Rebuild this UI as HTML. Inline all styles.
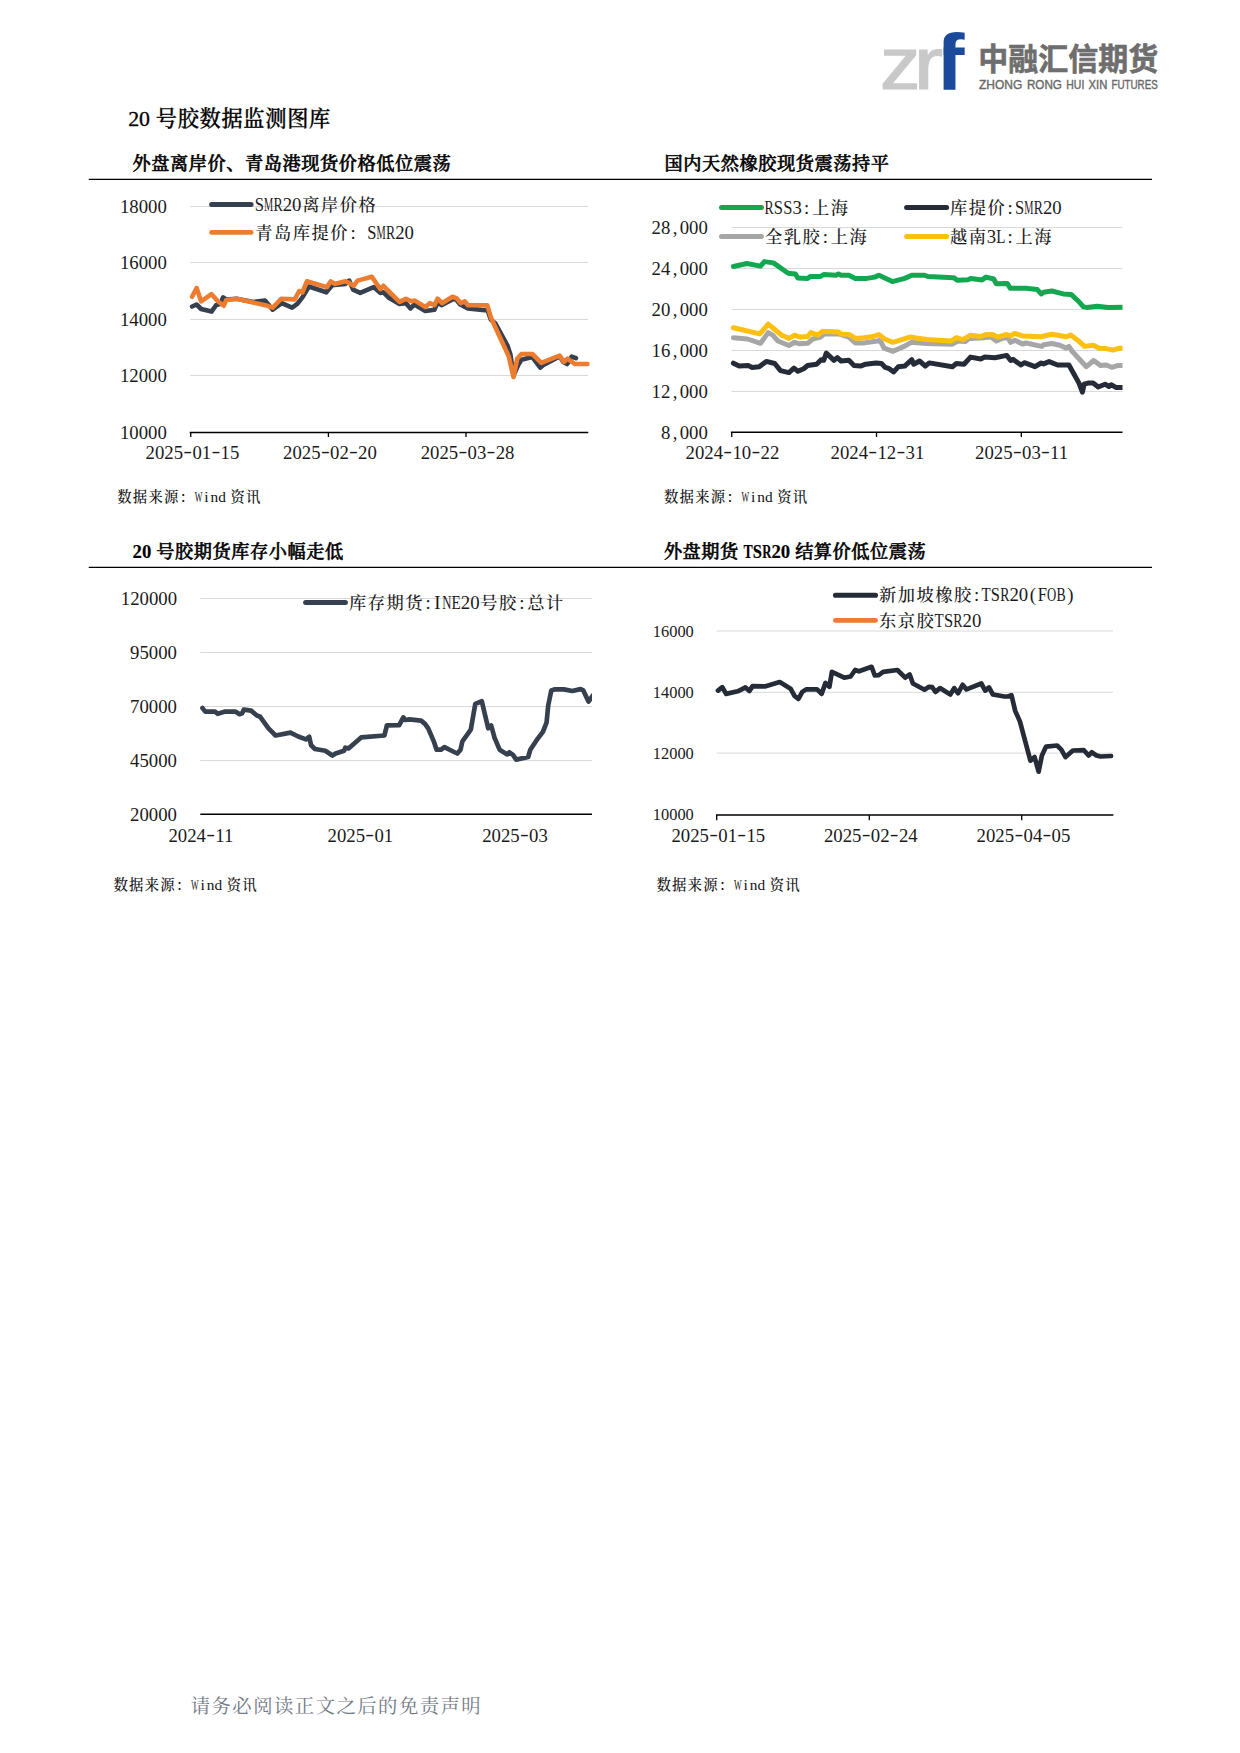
<!DOCTYPE html>
<html lang="zh-CN"><head><meta charset="utf-8"><title>20号胶数据监测图库</title>
<style>
html,body{margin:0;padding:0;background:#fff;}
body{width:1240px;height:1753px;overflow:hidden;}
svg{display:block;font-family:'Liberation Serif','Noto Serif CJK SC',serif;}
text{white-space:pre;}
</style></head><body>
<svg width="1240" height="1753" viewBox="0 0 1240 1753">
<clipPath id="cpf"><rect x="943.4" y="20" width="40" height="80"/></clipPath>
<text x="880.0" y="89.2" font-family="'Liberation Sans',sans-serif" font-size="73.5" fill="#c9c9c9" stroke="#c9c9c9" stroke-width="1.2" textLength="40.4" lengthAdjust="spacingAndGlyphs">z</text>
<text x="913.7" y="89.2" font-family="'Liberation Sans',sans-serif" font-size="73.5" fill="#c9c9c9" stroke="#c9c9c9" stroke-width="1.2" textLength="29.2" lengthAdjust="spacingAndGlyphs">r</text>
<text x="935.0" y="89.7" font-family="'Liberation Sans',sans-serif" font-weight="700" font-size="77" fill="#1b4a9b" textLength="29.5" lengthAdjust="spacingAndGlyphs" clip-path="url(#cpf)" transform="translate(0 89.7) scale(1 1.035) translate(0 -89.7)">f</text>
<text x="978.3" y="70.3" font-family="'Liberation Sans','Noto Sans CJK SC',sans-serif" font-weight="700" font-size="30.3" fill="#6e6e6e" stroke="#6e6e6e" stroke-width="0.6" textLength="180" lengthAdjust="spacingAndGlyphs">中融汇信期货</text>
<text y="89.3" font-family="'Liberation Sans',sans-serif" font-size="12.6" fill="#696969" stroke="#696969" stroke-width="0.4"><tspan x="979.0" textLength="43.2" lengthAdjust="spacingAndGlyphs">ZHONG</tspan> <tspan x="1026.9" textLength="35.0" lengthAdjust="spacingAndGlyphs">RONG</tspan> <tspan x="1066.3" textLength="18.0" lengthAdjust="spacingAndGlyphs">HUI</tspan> <tspan x="1088.6" textLength="18.8" lengthAdjust="spacingAndGlyphs">XIN</tspan> <tspan x="1111.4" textLength="46.4" lengthAdjust="spacingAndGlyphs">FUTURES</tspan></text>
<text y="126.20" font-size="21.875" font-weight="500" fill="#000" stroke="#000" stroke-width="0.3"><tspan x="128.20">20</tspan> <tspan x="155.87" font-size="21.22" letter-spacing="0.66">号胶数据监测图库</tspan></text>
<text y="170.30" font-size="18.75" font-weight="500" fill="#000" stroke="#000" stroke-width="0.55"><tspan x="132.58" font-size="18.19" letter-spacing="0.56">外盘离岸价、青岛港现货价格低位震荡</tspan></text>
<text y="170.30" font-size="18.75" font-weight="500" fill="#000" stroke="#000" stroke-width="0.55"><tspan x="664.48" font-size="18.19" letter-spacing="0.56">国内天然橡胶现货震荡持平</tspan></text>
<text y="558.30" font-size="18.75" font-weight="500" fill="#000" stroke="#000" stroke-width="0.55"><tspan font-weight="700" stroke-width="0.15"><tspan x="132.50">20</tspan></tspan> <tspan x="156.22" font-size="18.19" letter-spacing="0.56">号胶期货库存小幅走低</tspan></text>
<text y="558.30" font-size="18.75" font-weight="500" fill="#000" stroke="#000" stroke-width="0.55"><tspan x="663.88" font-size="18.19" letter-spacing="0.56">外盘期货</tspan> <tspan font-weight="700" stroke-width="0.15"><tspan x="743.38" textLength="9.19" lengthAdjust="spacingAndGlyphs">T</tspan><tspan x="752.76" textLength="9.19" lengthAdjust="spacingAndGlyphs">S</tspan><tspan x="762.13" textLength="9.19" lengthAdjust="spacingAndGlyphs">R</tspan><tspan x="771.41">20</tspan></tspan> <tspan x="795.13" font-size="18.19" letter-spacing="0.56">结算价低位震荡</tspan></text>
<line x1="88.75" y1="179.4" x2="1152" y2="179.4" stroke="#000" stroke-width="1.1"/>
<line x1="88.75" y1="567.4" x2="1152" y2="567.4" stroke="#000" stroke-width="1.1"/>
<line x1="190.3" y1="206.5" x2="588.3" y2="206.5" stroke="#d9d9d9" stroke-width="1"/>
<line x1="190.3" y1="262.5" x2="588.3" y2="262.5" stroke="#d9d9d9" stroke-width="1"/>
<line x1="190.3" y1="319.5" x2="588.3" y2="319.5" stroke="#d9d9d9" stroke-width="1"/>
<line x1="190.3" y1="375.5" x2="588.3" y2="375.5" stroke="#d9d9d9" stroke-width="1"/>
<text y="213.08" font-size="18.75" font-weight="400" fill="#1a1a1a" ><tspan x="119.93">18000</tspan></text>
<text y="269.48" font-size="18.75" font-weight="400" fill="#1a1a1a" ><tspan x="119.93">16000</tspan></text>
<text y="326.08" font-size="18.75" font-weight="400" fill="#1a1a1a" ><tspan x="119.93">14000</tspan></text>
<text y="382.38" font-size="18.75" font-weight="400" fill="#1a1a1a" ><tspan x="119.93">12000</tspan></text>
<text y="439.18" font-size="18.75" font-weight="400" fill="#1a1a1a" ><tspan x="119.93">10000</tspan></text>
<polyline points="192.1,306.5 196.6,304.5 201.1,309.0 211.5,311.6 216.0,305.2 220.5,303.9 223.1,297.4 226.3,299.5 236.6,298.7 253.4,302.0 265.0,300.6 272.7,309.7 281.8,303.2 292.1,307.7 297.3,303.9 302.4,297.4 308.9,286.5 326.3,292.3 332.1,285.2 345.3,283.9 349.2,280.6 353.1,289.7 360.2,292.9 373.7,287.1 380.2,292.9 383.4,292.3 389.2,298.1 399.5,303.9 406.0,303.2 410.5,308.4 414.4,304.5 425.3,311.0 434.4,309.7 437.6,302.6 441.5,305.2 452.4,299.4 455.6,298.7 460.2,304.5 467.9,308.4 484.7,310.3 487.3,309.7 491.0,320.0 495.2,323.0 507.7,346.1 510.4,354.5 513.5,375.5 518.2,365.0 521.4,359.8 532.4,357.1 540.2,367.6 543.4,365.0 559.6,356.5 563.3,361.9 567.0,364.0 568.6,361.9 571.7,356.6 575.9,358.2" fill="none" stroke="#36404f" stroke-width="4.6" stroke-linejoin="round" stroke-linecap="round"/>
<polyline points="192.1,296.8 196.6,288.1 201.1,301.3 211.5,294.2 217.9,301.3 223.7,305.8 226.3,300.0 236.6,298.7 253.4,302.6 267.6,305.8 272.7,307.7 281.1,298.7 294.7,299.4 299.2,291.0 302.4,292.3 306.9,281.3 326.9,287.1 330.8,281.3 334.7,283.9 345.3,281.3 348.5,282.6 353.7,285.8 357.6,280.6 371.8,276.8 380.2,289.0 383.4,285.8 399.5,301.9 406.0,298.7 411.1,301.3 415.0,300.6 425.3,307.1 429.8,303.2 434.4,305.2 437.6,298.7 442.1,303.2 452.4,296.8 456.3,298.1 460.8,303.2 464.7,301.3 467.9,305.2 487.3,305.2 491.0,317.8 508.8,356.6 513.5,377.1 517.2,358.7 521.4,354.0 532.4,354.0 541.3,362.9 559.6,355.6 563.8,361.9 567.5,358.7 574.8,364.0 587.4,364.0" fill="none" stroke="#ec7c30" stroke-width="4.6" stroke-linejoin="round" stroke-linecap="round"/>
<line x1="189.70000000000002" y1="432.5" x2="588.3" y2="432.5" stroke="#000" stroke-width="1.4"/>
<line x1="190.75" y1="432.5" x2="190.75" y2="437" stroke="#000" stroke-width="1.3"/>
<line x1="328.4" y1="432.5" x2="328.4" y2="437" stroke="#000" stroke-width="1.3"/>
<line x1="466.0" y1="432.5" x2="466.0" y2="437" stroke="#000" stroke-width="1.3"/>
<text y="458.88" font-size="18.75" font-weight="400" fill="#1a1a1a" ><tspan x="145.53">2025</tspan><tspan x="183.31" dy="-2.25" textLength="8.81" lengthAdjust="spacingAndGlyphs">-</tspan><tspan x="192.40" dy="2.25">01</tspan><tspan x="211.43" dy="-2.25" textLength="8.81" lengthAdjust="spacingAndGlyphs">-</tspan><tspan x="220.53" dy="2.25">15</tspan></text>
<text y="458.88" font-size="18.75" font-weight="400" fill="#1a1a1a" ><tspan x="283.12">2025</tspan><tspan x="320.91" dy="-2.25" textLength="8.81" lengthAdjust="spacingAndGlyphs">-</tspan><tspan x="330.00" dy="2.25">02</tspan><tspan x="349.03" dy="-2.25" textLength="8.81" lengthAdjust="spacingAndGlyphs">-</tspan><tspan x="358.12" dy="2.25">20</tspan></text>
<text y="458.88" font-size="18.75" font-weight="400" fill="#1a1a1a" ><tspan x="420.73">2025</tspan><tspan x="458.51" dy="-2.25" textLength="8.81" lengthAdjust="spacingAndGlyphs">-</tspan><tspan x="467.60" dy="2.25">03</tspan><tspan x="486.63" dy="-2.25" textLength="8.81" lengthAdjust="spacingAndGlyphs">-</tspan><tspan x="495.73" dy="2.25">28</tspan></text>
<line x1="211.6" y1="204.4" x2="251.1" y2="204.4" stroke="#36404f" stroke-width="5" stroke-linecap="round"/>
<line x1="211.6" y1="232.4" x2="251.1" y2="232.4" stroke="#ec7c30" stroke-width="4.8" stroke-linecap="round"/>
<text y="210.89" font-size="18.75" font-weight="400" fill="#1a1a1a" ><tspan x="254.69" textLength="9.19" lengthAdjust="spacingAndGlyphs">S</tspan><tspan x="264.07" textLength="9.19" lengthAdjust="spacingAndGlyphs">M</tspan><tspan x="273.44" textLength="9.19" lengthAdjust="spacingAndGlyphs">R</tspan><tspan x="282.73">20</tspan><tspan x="302.23" font-size="17.25" letter-spacing="1.50" font-weight="500">离岸价格</tspan></text>
<text y="238.89" font-size="18.75" font-weight="400" fill="#1a1a1a" ><tspan x="255.35" font-size="17.25" letter-spacing="1.50" font-weight="500">青岛库提价</tspan><tspan x="350.43">:</tspan> <tspan x="367.19" textLength="9.19" lengthAdjust="spacingAndGlyphs">S</tspan><tspan x="376.57" textLength="9.19" lengthAdjust="spacingAndGlyphs">M</tspan><tspan x="385.94" textLength="9.19" lengthAdjust="spacingAndGlyphs">R</tspan><tspan x="395.23">20</tspan></text>
<text y="502.00" font-size="15.625" font-weight="400" fill="#111" ><tspan x="117.22" font-size="14.38" letter-spacing="1.25" font-weight="500">数据来源：</tspan><tspan x="194.80" textLength="7.66" lengthAdjust="spacingAndGlyphs">W</tspan><tspan x="204.27">i</tspan><tspan x="210.43" textLength="7.66" lengthAdjust="spacingAndGlyphs">n</tspan><tspan x="218.24" textLength="7.66" lengthAdjust="spacingAndGlyphs">d</tspan> <tspan x="230.51" font-size="14.38" letter-spacing="1.25" font-weight="500">资讯</tspan></text>
<clipPath id="cp2"><rect x="726.5" y="200" width="396.0" height="240"/></clipPath>
<line x1="731.5" y1="227.5" x2="1122.5" y2="227.5" stroke="#d9d9d9" stroke-width="1"/>
<line x1="731.5" y1="268.5" x2="1122.5" y2="268.5" stroke="#d9d9d9" stroke-width="1"/>
<line x1="731.5" y1="309.5" x2="1122.5" y2="309.5" stroke="#d9d9d9" stroke-width="1"/>
<line x1="731.5" y1="350.5" x2="1122.5" y2="350.5" stroke="#d9d9d9" stroke-width="1"/>
<line x1="731.5" y1="391.5" x2="1122.5" y2="391.5" stroke="#d9d9d9" stroke-width="1"/>
<text y="234.28" font-size="18.75" font-weight="400" fill="#1a1a1a" ><tspan x="651.55">28</tspan><tspan x="672.64">,</tspan><tspan x="679.67">000</tspan></text>
<text y="275.28" font-size="18.75" font-weight="400" fill="#1a1a1a" ><tspan x="651.55">24</tspan><tspan x="672.64">,</tspan><tspan x="679.67">000</tspan></text>
<text y="316.28" font-size="18.75" font-weight="400" fill="#1a1a1a" ><tspan x="651.55">20</tspan><tspan x="672.64">,</tspan><tspan x="679.67">000</tspan></text>
<text y="357.28" font-size="18.75" font-weight="400" fill="#1a1a1a" ><tspan x="651.55">16</tspan><tspan x="672.64">,</tspan><tspan x="679.67">000</tspan></text>
<text y="398.28" font-size="18.75" font-weight="400" fill="#1a1a1a" ><tspan x="651.55">12</tspan><tspan x="672.64">,</tspan><tspan x="679.67">000</tspan></text>
<text y="439.08" font-size="18.75" font-weight="400" fill="#1a1a1a" ><tspan x="660.92">8</tspan><tspan x="672.64">,</tspan><tspan x="679.67">000</tspan></text>
<polyline points="733.4,363.2 739.2,366.1 748.2,365.5 752.1,367.4 759.2,366.8 766.3,361.4 774.7,363.5 780.5,370.6 788.9,372.6 794.0,368.1 797.9,371.3 803.7,368.7 807.6,365.5 816.6,364.2 821.1,359.7 823.7,360.3 826.3,353.2 834.0,360.3 837.3,357.7 841.1,361.0 848.9,360.3 854.0,365.5 860.5,366.1 865.6,364.2 876.0,362.9 881.5,363.5 885.3,367.4 889.2,368.7 893.7,371.9 898.2,366.8 904.7,366.1 911.8,359.7 913.7,364.2 919.5,361.0 925.3,366.1 929.2,362.9 952.4,366.8 956.3,363.5 964.0,364.2 970.5,357.1 980.8,359.0 984.7,357.1 995.0,357.7 1006.8,355.4 1010.7,360.5 1013.0,359.4 1020.9,365.0 1024.3,362.7 1035.0,366.7 1041.2,363.0 1043.5,363.9 1049.1,361.6 1057.6,365.0 1068.9,365.0 1079.0,383.1 1082.4,392.1 1084.1,384.2 1088.1,383.1 1093.1,383.1 1098.2,387.0 1105.0,384.2 1109.0,386.5 1111.2,384.8 1116.3,387.6 1124.0,387.6" fill="none" stroke="#262b38" stroke-width="5" stroke-linejoin="round" stroke-linecap="round" clip-path="url(#cp2)"/>
<polyline points="733.4,337.7 747.6,339.0 760.5,343.3 768.2,332.6 772.7,335.2 777.9,341.0 788.9,345.5 794.7,342.3 799.8,343.8 807.6,343.3 812.7,339.0 820.5,337.1 824.4,333.9 838.5,333.9 848.9,337.1 855.3,342.9 864.4,342.9 877.3,341.0 880.2,340.3 884.0,348.1 893.1,351.3 904.7,346.1 911.1,342.3 926.6,343.5 952.4,344.2 957.6,341.0 965.3,341.6 969.2,338.4 980.8,338.0 991.1,337.1 996.3,341.0 1004.0,337.7 1007.9,337.9 1010.7,342.4 1014.7,340.2 1022.6,344.1 1026.0,343.0 1041.8,346.4 1043.5,344.7 1051.9,343.5 1059.8,345.2 1066.0,348.1 1068.9,346.4 1072.3,351.5 1086.4,366.7 1093.7,360.5 1100.5,365.6 1106.1,365.0 1111.8,367.3 1117.4,365.6 1124.0,365.6" fill="none" stroke="#a6a6a6" stroke-width="5" stroke-linejoin="round" stroke-linecap="round" clip-path="url(#cp2)"/>
<polyline points="733.4,327.8 759.8,333.9 768.2,324.2 781.8,335.2 788.9,338.4 794.7,335.2 799.8,337.1 807.6,336.5 810.8,332.6 817.9,335.2 822.4,331.3 838.5,331.9 841.1,333.9 849.5,334.5 855.3,338.4 864.4,337.7 873.4,336.5 878.7,334.5 884.7,339.0 893.1,342.3 909.8,337.1 926.6,339.4 951.1,341.0 956.3,337.7 962.7,339.7 970.5,335.2 980.8,336.5 986.0,334.5 992.4,334.5 997.6,337.1 1006.6,334.5 1010.7,335.9 1014.7,333.4 1022.6,335.9 1040.6,336.8 1051.9,334.3 1066.6,336.8 1070.6,335.1 1079.0,341.3 1084.7,346.4 1093.1,345.2 1099.4,348.3 1106.1,348.6 1112.9,350.1 1118.5,348.3 1124.0,348.3" fill="none" stroke="#fdc010" stroke-width="5" stroke-linejoin="round" stroke-linecap="round" clip-path="url(#cp2)"/>
<polyline points="733.4,266.5 746.9,263.5 760.5,266.1 764.4,261.6 773.4,262.9 788.2,273.2 795.3,273.9 797.9,278.1 807.6,278.4 810.2,276.5 820.5,276.5 823.7,274.5 836.0,275.2 838.5,273.9 841.1,275.2 848.9,275.2 855.3,278.4 866.9,278.4 874.7,277.1 878.9,275.2 892.4,281.6 904.7,278.4 911.8,275.2 924.0,275.2 927.9,276.5 953.7,277.7 957.6,280.3 967.9,279.7 971.1,278.4 982.1,279.9 986.0,277.1 993.7,279.0 996.3,283.8 1007.3,283.5 1010.2,288.2 1026.0,288.2 1037.3,289.6 1041.2,293.9 1043.5,292.2 1051.9,291.0 1063.2,293.9 1071.1,294.4 1079.0,301.8 1083.5,306.9 1086.9,307.4 1097.1,306.3 1108.4,307.4 1124.0,307.2" fill="none" stroke="#12a850" stroke-width="5" stroke-linejoin="round" stroke-linecap="round" clip-path="url(#cp2)"/>
<line x1="730.9" y1="432.2" x2="1122.5" y2="432.2" stroke="#000" stroke-width="1.4"/>
<line x1="731.75" y1="432.2" x2="731.75" y2="437" stroke="#000" stroke-width="1.3"/>
<line x1="876.5" y1="432.2" x2="876.5" y2="437" stroke="#000" stroke-width="1.3"/>
<line x1="1021.3" y1="432.2" x2="1021.3" y2="437" stroke="#000" stroke-width="1.3"/>
<text y="459.28" font-size="18.75" font-weight="400" fill="#1a1a1a" ><tspan x="685.52">2024</tspan><tspan x="723.31" dy="-2.25" textLength="8.81" lengthAdjust="spacingAndGlyphs">-</tspan><tspan x="732.40" dy="2.25">10</tspan><tspan x="751.43" dy="-2.25" textLength="8.81" lengthAdjust="spacingAndGlyphs">-</tspan><tspan x="760.52" dy="2.25">22</tspan></text>
<text y="459.28" font-size="18.75" font-weight="400" fill="#1a1a1a" ><tspan x="830.52">2024</tspan><tspan x="868.31" dy="-2.25" textLength="8.81" lengthAdjust="spacingAndGlyphs">-</tspan><tspan x="877.40" dy="2.25">12</tspan><tspan x="896.43" dy="-2.25" textLength="8.81" lengthAdjust="spacingAndGlyphs">-</tspan><tspan x="905.52" dy="2.25">31</tspan></text>
<text y="459.28" font-size="18.75" font-weight="400" fill="#1a1a1a" ><tspan x="975.12">2025</tspan><tspan x="1012.91" dy="-2.25" textLength="8.81" lengthAdjust="spacingAndGlyphs">-</tspan><tspan x="1022.00" dy="2.25">03</tspan><tspan x="1041.03" dy="-2.25" textLength="8.81" lengthAdjust="spacingAndGlyphs">-</tspan><tspan x="1050.12" dy="2.25">11</tspan></text>
<line x1="721.5" y1="207.5" x2="761.5" y2="207.5" stroke="#12a850" stroke-width="5" stroke-linecap="round"/>
<line x1="721.5" y1="236.4" x2="761.5" y2="236.4" stroke="#a6a6a6" stroke-width="5" stroke-linecap="round"/>
<line x1="906.6" y1="207.4" x2="946.6" y2="207.4" stroke="#262b38" stroke-width="5" stroke-linecap="round"/>
<line x1="906.6" y1="236.4" x2="946.6" y2="236.4" stroke="#fdc010" stroke-width="5" stroke-linecap="round"/>
<text y="214.09" font-size="18.75" font-weight="400" fill="#1a1a1a" ><tspan x="764.39" textLength="9.19" lengthAdjust="spacingAndGlyphs">R</tspan><tspan x="773.77" textLength="9.19" lengthAdjust="spacingAndGlyphs">S</tspan><tspan x="783.14" textLength="9.19" lengthAdjust="spacingAndGlyphs">S</tspan><tspan x="792.42">3</tspan><tspan x="803.88">:</tspan><tspan x="811.92" font-size="17.25" letter-spacing="1.50" font-weight="500">上海</tspan></text>
<text y="243.09" font-size="18.75" font-weight="400" fill="#1a1a1a" ><tspan x="765.05" font-size="17.25" letter-spacing="1.50" font-weight="500">全乳胶</tspan><tspan x="822.63">:</tspan><tspan x="830.67" font-size="17.25" letter-spacing="1.50" font-weight="500">上海</tspan></text>
<text y="214.09" font-size="18.75" font-weight="400" fill="#1a1a1a" ><tspan x="949.95" font-size="17.25" letter-spacing="1.50" font-weight="500">库提价</tspan><tspan x="1007.53">:</tspan><tspan x="1014.92" textLength="9.19" lengthAdjust="spacingAndGlyphs">S</tspan><tspan x="1024.29" textLength="9.19" lengthAdjust="spacingAndGlyphs">M</tspan><tspan x="1033.67" textLength="9.19" lengthAdjust="spacingAndGlyphs">R</tspan><tspan x="1042.95">20</tspan></text>
<text y="243.09" font-size="18.75" font-weight="400" fill="#1a1a1a" ><tspan x="949.95" font-size="17.25" letter-spacing="1.50" font-weight="500">越南</tspan><tspan x="986.70">3</tspan><tspan x="996.17" textLength="9.19" lengthAdjust="spacingAndGlyphs">L</tspan><tspan x="1007.53">:</tspan><tspan x="1015.58" font-size="17.25" letter-spacing="1.50" font-weight="500">上海</tspan></text>
<text y="502.00" font-size="15.625" font-weight="400" fill="#111" ><tspan x="663.92" font-size="14.38" letter-spacing="1.25" font-weight="500">数据来源：</tspan><tspan x="741.50" textLength="7.66" lengthAdjust="spacingAndGlyphs">W</tspan><tspan x="750.97">i</tspan><tspan x="757.13" textLength="7.66" lengthAdjust="spacingAndGlyphs">n</tspan><tspan x="764.94" textLength="7.66" lengthAdjust="spacingAndGlyphs">d</tspan> <tspan x="777.21" font-size="14.38" letter-spacing="1.25" font-weight="500">资讯</tspan></text>
<clipPath id="cp3"><rect x="195.3" y="580" width="396.7" height="240"/></clipPath>
<line x1="200.3" y1="598.5" x2="592.0" y2="598.5" stroke="#d9d9d9" stroke-width="1"/>
<line x1="200.3" y1="652.5" x2="592.0" y2="652.5" stroke="#d9d9d9" stroke-width="1"/>
<line x1="200.3" y1="706.5" x2="592.0" y2="706.5" stroke="#d9d9d9" stroke-width="1"/>
<line x1="200.3" y1="760.5" x2="592.0" y2="760.5" stroke="#d9d9d9" stroke-width="1"/>
<text y="605.18" font-size="18.75" font-weight="400" fill="#1a1a1a" ><tspan x="120.75">120000</tspan></text>
<text y="659.08" font-size="18.75" font-weight="400" fill="#1a1a1a" ><tspan x="130.12">95000</tspan></text>
<text y="713.18" font-size="18.75" font-weight="400" fill="#1a1a1a" ><tspan x="130.12">70000</tspan></text>
<text y="767.18" font-size="18.75" font-weight="400" fill="#1a1a1a" ><tspan x="130.12">45000</tspan></text>
<text y="821.28" font-size="18.75" font-weight="400" fill="#1a1a1a" ><tspan x="130.12">20000</tspan></text>
<polyline points="202.5,708.1 205.3,711.6 215.0,711.6 217.6,713.8 225.3,711.6 235.6,711.6 239.5,714.2 242.1,713.3 243.8,709.7 251.1,710.6 256.9,715.5 260.2,716.8 268.5,728.4 275.6,735.5 290.5,732.6 298.2,736.5 306.0,739.4 309.2,736.8 311.1,745.2 315.0,749.0 325.3,750.7 332.4,755.5 335.6,753.5 344.0,750.7 345.3,747.7 348.5,748.4 361.1,737.4 384.4,735.5 386.9,725.4 399.2,725.2 403.3,717.4 405.0,720.0 409.5,719.4 421.1,720.6 425.0,723.9 428.2,728.4 434.0,741.9 436.6,749.7 441.1,749.7 444.4,747.1 452.1,751.0 457.3,753.5 460.5,749.7 462.4,741.3 470.8,729.7 475.3,703.9 481.8,701.3 488.2,728.3 491.2,725.5 494.5,737.6 499.6,749.7 507.3,754.4 509.4,752.3 513.0,754.9 516.2,759.6 528.2,757.0 530.3,749.7 536.6,740.2 542.9,731.9 546.6,722.4 548.2,705.6 551.3,690.4 554.4,689.4 563.9,689.4 572.3,691.0 580.6,689.1 583.3,690.4 588.5,701.5 594.0,694.0" fill="none" stroke="#36404f" stroke-width="4.7" stroke-linejoin="round" stroke-linecap="round" clip-path="url(#cp3)"/>
<line x1="200.3" y1="814.3" x2="592.0" y2="814.3" stroke="#000" stroke-width="1.4"/>
<text y="841.88" font-size="18.75" font-weight="400" fill="#1a1a1a" ><tspan x="168.49">2024</tspan><tspan x="206.27" dy="-2.25" textLength="8.81" lengthAdjust="spacingAndGlyphs">-</tspan><tspan x="215.36" dy="2.25">11</tspan></text>
<text y="841.88" font-size="18.75" font-weight="400" fill="#1a1a1a" ><tspan x="327.59">2025</tspan><tspan x="365.37" dy="-2.25" textLength="8.81" lengthAdjust="spacingAndGlyphs">-</tspan><tspan x="374.46" dy="2.25">01</tspan></text>
<text y="841.88" font-size="18.75" font-weight="400" fill="#1a1a1a" ><tspan x="482.19">2025</tspan><tspan x="519.97" dy="-2.25" textLength="8.81" lengthAdjust="spacingAndGlyphs">-</tspan><tspan x="529.06" dy="2.25">03</tspan></text>
<line x1="305.6" y1="602.5" x2="345.4" y2="602.5" stroke="#36404f" stroke-width="5" stroke-linecap="round"/>
<text y="608.89" font-size="18.75" font-weight="400" fill="#1a1a1a" ><tspan x="349.05" font-size="17.25" letter-spacing="1.50" font-weight="500">库存期货</tspan><tspan x="425.38">:</tspan><tspan x="434.24">I</tspan><tspan x="442.14" textLength="9.19" lengthAdjust="spacingAndGlyphs">N</tspan><tspan x="451.52" textLength="9.19" lengthAdjust="spacingAndGlyphs">E</tspan><tspan x="460.80">20</tspan><tspan x="480.30" font-size="17.25" letter-spacing="1.50" font-weight="500">号胶</tspan><tspan x="519.13">:</tspan><tspan x="527.17" font-size="17.25" letter-spacing="1.50" font-weight="500">总计</tspan></text>
<text y="889.60" font-size="15.625" font-weight="400" fill="#111" ><tspan x="113.42" font-size="14.38" letter-spacing="1.25" font-weight="500">数据来源：</tspan><tspan x="191.00" textLength="7.66" lengthAdjust="spacingAndGlyphs">W</tspan><tspan x="200.47">i</tspan><tspan x="206.63" textLength="7.66" lengthAdjust="spacingAndGlyphs">n</tspan><tspan x="214.44" textLength="7.66" lengthAdjust="spacingAndGlyphs">d</tspan> <tspan x="226.71" font-size="14.38" letter-spacing="1.25" font-weight="500">资讯</tspan></text>
<line x1="716.6" y1="631.0" x2="1113.0" y2="631.0" stroke="#d9d9d9" stroke-width="1"/>
<line x1="716.6" y1="692.3" x2="1113.0" y2="692.3" stroke="#d9d9d9" stroke-width="1"/>
<line x1="716.6" y1="753.1" x2="1113.0" y2="753.1" stroke="#d9d9d9" stroke-width="1"/>
<text y="637.29" font-size="16.4" font-weight="400" fill="#1a1a1a" ><tspan x="652.80">16000</tspan></text>
<text y="698.19" font-size="16.4" font-weight="400" fill="#1a1a1a" ><tspan x="652.80">14000</tspan></text>
<text y="759.19" font-size="16.4" font-weight="400" fill="#1a1a1a" ><tspan x="652.80">12000</tspan></text>
<text y="820.49" font-size="16.4" font-weight="400" fill="#1a1a1a" ><tspan x="652.80">10000</tspan></text>
<polyline points="718.0,690.6 722.3,687.2 726.1,693.9 737.7,691.3 745.5,687.4 749.4,691.0 752.6,686.1 764.8,686.4 779.7,682.0 790.6,688.7 794.5,695.8 798.4,698.8 802.3,691.9 806.1,689.4 817.1,689.4 821.6,693.9 825.5,682.9 829.4,686.8 831.9,671.9 844.2,677.7 850.6,676.5 855.2,670.0 859.0,671.3 871.6,666.8 874.8,675.5 878.7,675.2 883.2,671.9 897.4,670.0 905.2,677.7 909.7,674.5 912.9,683.5 924.5,689.7 929.0,686.8 932.3,687.2 935.5,691.9 940.0,688.1 950.3,694.5 954.2,688.1 958.1,693.2 962.6,684.8 966.5,689.4 981.3,683.5 985.2,690.6 989.0,687.4 992.9,694.5 1004.5,696.5 1008.0,696.5 1011.5,695.2 1015.2,710.9 1019.9,721.4 1030.4,760.7 1034.6,757.1 1038.6,771.7 1041.9,755.5 1046.1,746.6 1057.1,745.5 1061.3,749.7 1065.5,757.1 1072.9,750.5 1083.9,750.2 1088.6,755.5 1091.7,752.3 1096.5,755.5 1100.6,756.5 1111.1,756.0" fill="none" stroke="#262b38" stroke-width="4.7" stroke-linejoin="round" stroke-linecap="round"/>
<line x1="716.0" y1="815.0" x2="1113.4" y2="815.0" stroke="#000" stroke-width="1.4"/>
<line x1="716.7" y1="815.0" x2="716.7" y2="820.2" stroke="#000" stroke-width="1.3"/>
<line x1="869.3" y1="815.0" x2="869.3" y2="820.2" stroke="#000" stroke-width="1.3"/>
<line x1="1021.7" y1="815.0" x2="1021.7" y2="820.2" stroke="#000" stroke-width="1.3"/>
<text y="842.08" font-size="18.75" font-weight="400" fill="#1a1a1a" ><tspan x="671.42">2025</tspan><tspan x="709.21" dy="-2.25" textLength="8.81" lengthAdjust="spacingAndGlyphs">-</tspan><tspan x="718.30" dy="2.25">01</tspan><tspan x="737.33" dy="-2.25" textLength="8.81" lengthAdjust="spacingAndGlyphs">-</tspan><tspan x="746.42" dy="2.25">15</tspan></text>
<text y="842.08" font-size="18.75" font-weight="400" fill="#1a1a1a" ><tspan x="823.92">2025</tspan><tspan x="861.71" dy="-2.25" textLength="8.81" lengthAdjust="spacingAndGlyphs">-</tspan><tspan x="870.80" dy="2.25">02</tspan><tspan x="889.83" dy="-2.25" textLength="8.81" lengthAdjust="spacingAndGlyphs">-</tspan><tspan x="898.92" dy="2.25">24</tspan></text>
<text y="842.08" font-size="18.75" font-weight="400" fill="#1a1a1a" ><tspan x="976.62">2025</tspan><tspan x="1014.41" dy="-2.25" textLength="8.81" lengthAdjust="spacingAndGlyphs">-</tspan><tspan x="1023.50" dy="2.25">04</tspan><tspan x="1042.53" dy="-2.25" textLength="8.81" lengthAdjust="spacingAndGlyphs">-</tspan><tspan x="1051.62" dy="2.25">05</tspan></text>
<line x1="835.5" y1="595.3" x2="875.5" y2="595.3" stroke="#262b38" stroke-width="5.1" stroke-linecap="round"/>
<line x1="835.5" y1="620.4" x2="875.5" y2="620.4" stroke="#ec7c30" stroke-width="4.9" stroke-linecap="round"/>
<text y="601.09" font-size="18.75" font-weight="400" fill="#1a1a1a" ><tspan x="878.95" font-size="17.25" letter-spacing="1.50" font-weight="500">新加坡橡胶</tspan><tspan x="974.03">:</tspan><tspan x="981.42" textLength="9.19" lengthAdjust="spacingAndGlyphs">T</tspan><tspan x="990.79" textLength="9.19" lengthAdjust="spacingAndGlyphs">S</tspan><tspan x="1000.17" textLength="9.19" lengthAdjust="spacingAndGlyphs">R</tspan><tspan x="1009.45">20</tspan><tspan x="1029.77">(</tspan><tspan x="1037.67" textLength="9.19" lengthAdjust="spacingAndGlyphs">F</tspan><tspan x="1047.04" textLength="9.19" lengthAdjust="spacingAndGlyphs">O</tspan><tspan x="1056.42" textLength="9.19" lengthAdjust="spacingAndGlyphs">B</tspan><tspan x="1067.27">)</tspan></text>
<text y="626.89" font-size="18.75" font-weight="400" fill="#1a1a1a" ><tspan x="878.95" font-size="17.25" letter-spacing="1.50" font-weight="500">东京胶</tspan><tspan x="934.54" textLength="9.19" lengthAdjust="spacingAndGlyphs">T</tspan><tspan x="943.92" textLength="9.19" lengthAdjust="spacingAndGlyphs">S</tspan><tspan x="953.29" textLength="9.19" lengthAdjust="spacingAndGlyphs">R</tspan><tspan x="962.58">20</tspan></text>
<text y="889.60" font-size="15.625" font-weight="400" fill="#111" ><tspan x="656.42" font-size="14.38" letter-spacing="1.25" font-weight="500">数据来源：</tspan><tspan x="734.00" textLength="7.66" lengthAdjust="spacingAndGlyphs">W</tspan><tspan x="743.47">i</tspan><tspan x="749.63" textLength="7.66" lengthAdjust="spacingAndGlyphs">n</tspan><tspan x="757.44" textLength="7.66" lengthAdjust="spacingAndGlyphs">d</tspan> <tspan x="769.71" font-size="14.38" letter-spacing="1.25" font-weight="500">资讯</tspan></text>
<text y="1712.80" font-size="20.83" font-weight="400" fill="#737a87" ><tspan x="190.73" font-size="19.37" letter-spacing="1.46">请务必阅读正文之后的免责声明</tspan></text>
</svg>
</body></html>
